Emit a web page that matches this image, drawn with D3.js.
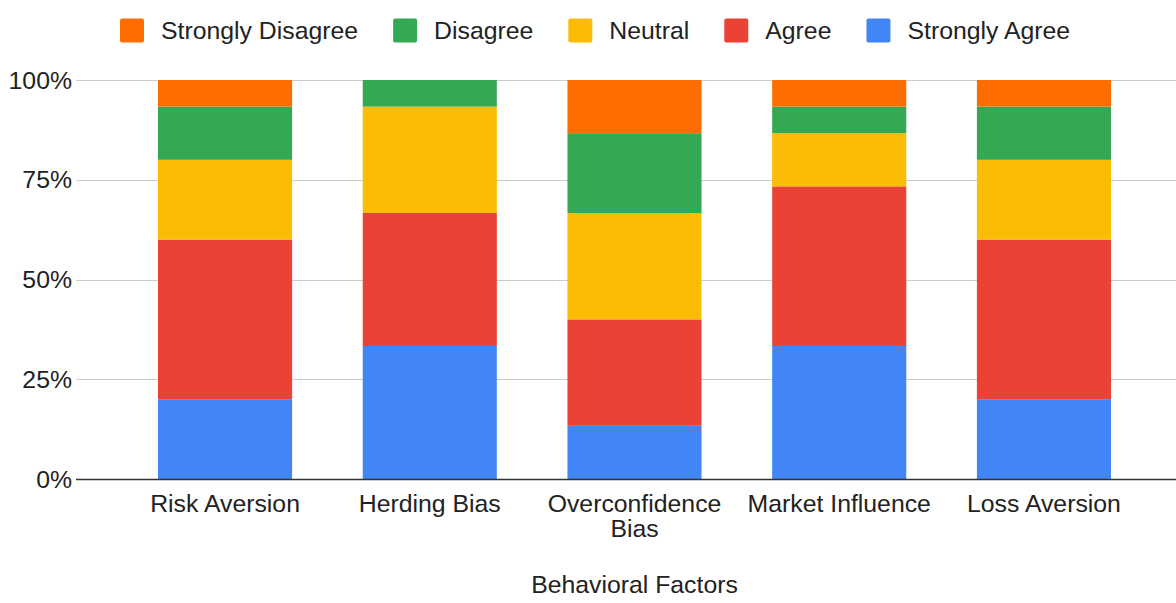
<!DOCTYPE html>
<html>
<head>
<meta charset="utf-8">
<script src="https://cdn.jsdelivr.net/npm/d3@7"></script>
<style>
  html, body { margin: 0; padding: 0; background: #fff; }
  svg { display: block; }
  text { font-family: "Liberation Sans", Arial, sans-serif; fill: #222; }
</style>
</head>
<body>
<svg id="chart" width="1176" height="603"></svg>
<script>
// ---- Data ----
const categories = ["Risk Aversion", "Herding Bias", "Overconfidence Bias", "Market Influence", "Loss Aversion"];
const seriesNames = ["Strongly Agree", "Agree", "Neutral", "Disagree", "Strongly Disagree"]; // bottom -> top
const stronglyAgree    = [3, 5, 2, 5, 3];
const agree            = [6, 5, 4, 6, 6];
const neutral          = [3, 4, 4, 2, 3];
const disagree         = [2, 1, 3, 1, 2];
const stronglyDisagree = [1, 0, 2, 1, 1];
const seriesColors = ["#4285f4", "#ea4335", "#fbbc04", "#34a853", "#ff6d01"];
const legendOrder = ["Strongly Disagree", "Disagree", "Neutral", "Agree", "Strongly Agree"];
const yTicks = [0, 0.25, 0.5, 0.75, 1];
const xTitle = "Behavioral Factors";

const seriesValues = [stronglyAgree, agree, neutral, disagree, stronglyDisagree];
const rows = categories.map((c, i) => {
  const r = { category: c };
  seriesNames.forEach((s, j) => r[s] = seriesValues[j][i]);
  return r;
});

// ---- Layout ----
const svg = d3.select("#chart");
const fontSize = 24.8;
const gridLeft = 76, gridRight = 1176;
const y0 = 479, y1 = 80;

const x = d3.scaleBand().domain(categories).range([123, 1146]).paddingInner(0.345).paddingOuter(0.171);
const y = d3.scaleLinear().domain([0, 1]).range([y0, y1]);
const color = d3.scaleOrdinal().domain(seriesNames).range(seriesColors);

const stack = d3.stack().keys(seriesNames).offset(d3.stackOffsetExpand);
const stacked = stack(rows);

// gridlines
svg.append("g").selectAll("line").data(yTicks.filter(t => t > 0)).join("line")
  .attr("x1", gridLeft).attr("x2", gridRight)
  .attr("y1", d => Math.round(y(d)) + 0.5).attr("y2", d => Math.round(y(d)) + 0.5)
  .attr("stroke", "#cccccc").attr("stroke-width", 1);

// y labels
svg.append("g").selectAll("text").data(yTicks).join("text")
  .attr("x", 72).attr("y", d => y(d)).attr("dy", "0.35em")
  .attr("text-anchor", "end").attr("font-size", fontSize).attr("fill", "#444")
  .text(d => d3.format(".0%")(d));

// bars
svg.append("g").selectAll("g").data(stacked).join("g")
  .attr("fill", d => color(d.key))
  .selectAll("rect").data(d => d).join("rect")
  .attr("x", d => x(d.data.category))
  .attr("width", x.bandwidth())
  .attr("y", d => y(d[1]))
  .attr("height", d => y(d[0]) - y(d[1]));

// baseline
svg.append("line").attr("x1", gridLeft).attr("x2", gridRight)
  .attr("y1", y0 + 0.5).attr("y2", y0 + 0.5)
  .attr("stroke", "#333333").attr("stroke-width", 1.5);

// x labels (wrap)
const xl = svg.append("g").selectAll("text").data(categories).join("text")
  .attr("text-anchor", "middle").attr("font-size", fontSize).attr("fill", "#222")
  .attr("transform", d => `translate(${x(d) + x.bandwidth() / 2},512)`);
xl.each(function(d) {
  const t = d3.select(this);
  const maxW = x.step() * 0.95;
  const words = d.split(" ");
  let lines = [], cur = "";
  const tmp = t.append("tspan");
  words.forEach(w => {
    const test = cur ? cur + " " + w : w;
    tmp.text(test);
    if (tmp.node().getComputedTextLength() > maxW && cur) { lines.push(cur); cur = w; }
    else cur = test;
  });
  lines.push(cur);
  tmp.remove();
  lines.forEach((l, i) => t.append("tspan").attr("x", 0).attr("dy", i === 0 ? 0 : 24.5).text(l));
});

// x title
svg.append("text").attr("x", (x.range()[0] + x.range()[1]) / 2).attr("y", 593)
  .attr("text-anchor", "middle").attr("font-size", fontSize).attr("fill", "#222")
  .text(xTitle);

// legend
const legend = svg.append("g");
let lx = 120;
legendOrder.forEach(name => {
  const g = legend.append("g").attr("transform", `translate(${lx},0)`);
  g.append("rect").attr("x", 0).attr("y", 18.5).attr("width", 24).attr("height", 24)
    .attr("rx", 2).attr("fill", color(name));
  const t = g.append("text").attr("x", 41).attr("y", 30.5).attr("dy", "0.35em")
    .attr("font-size", fontSize).attr("fill", "#222").text(name);
  lx += 41 + t.node().getComputedTextLength() + 35;
});
</script>
</body>
</html>
